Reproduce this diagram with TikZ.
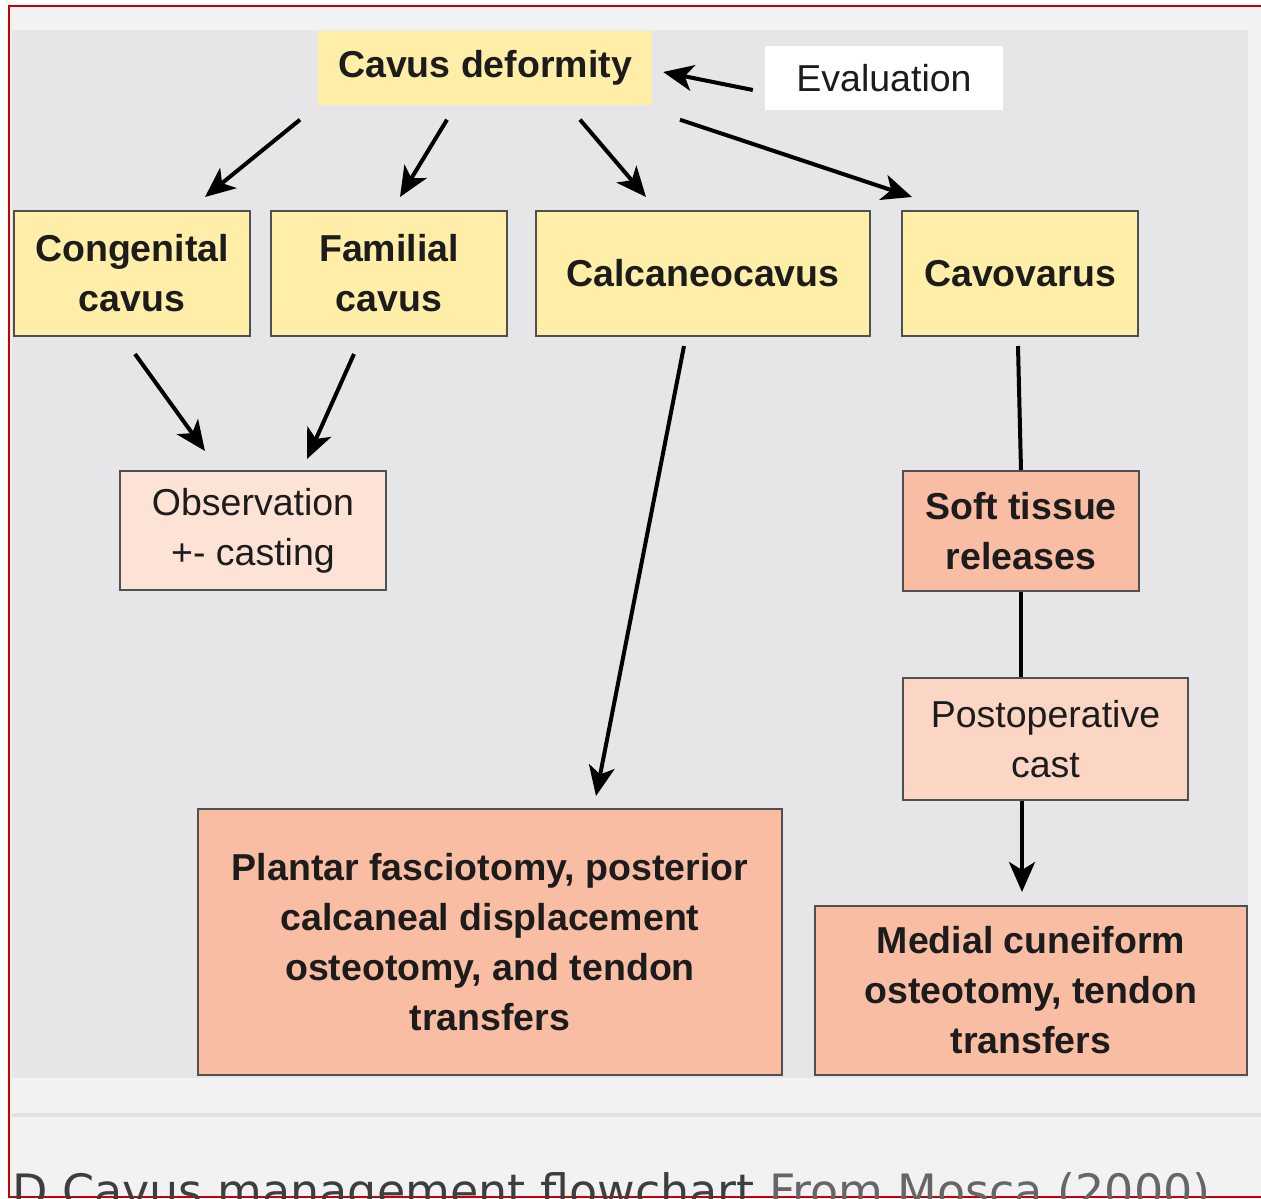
\documentclass[tikz,border=0pt]{standalone}
\usepackage{fontspec}
\setmainfont{Liberation Sans}
\newfontfamily\captionfont{DejaVu Sans}
\usepackage{tikz}
\usetikzlibrary{positioning, arrows.meta}
\definecolor{cavusyellow}{RGB}{255,238,168}
\definecolor{obspink}{RGB}{253,226,214}
\definecolor{salmon}{RGB}{249,189,164}
\definecolor{peach}{RGB}{252,214,196}
\definecolor{boxline}{RGB}{80,80,80}
\definecolor{panelgray}{RGB}{230,230,232}
\definecolor{pagegray}{RGB}{242,242,242}
\definecolor{ruleline}{RGB}{224,224,224}
\definecolor{framered}{RGB}{204,0,0}
\definecolor{inkdark}{RGB}{28,28,28}
\newcommand{\boxfont}{\fontsize{37.5pt}{50pt}\selectfont}

\begin{document}
\begin{tikzpicture}[
    x=1pt, y=-1pt,
    box/.style={
        align=center,
        inner sep=0pt,
        text=inkdark,
        font=\boxfont
    },
    yellowbox/.style={box, draw=boxline, line width=2pt, fill=cavusyellow,
        minimum height=125pt, font=\boxfont\bfseries},
    pinkbox/.style={box, draw=boxline, line width=2pt, fill=obspink},
    peachbox/.style={box, draw=boxline, line width=2pt, fill=peach},
    salmonbox/.style={box, draw=boxline, line width=2pt, fill=salmon, font=\boxfont\bfseries},
    arrow/.style={line width=4pt, -{Stealth[length=30pt, width=26pt, inset=8pt]}},
    link/.style={line width=4pt}
]
\useasboundingbox (0,0) rectangle (1261,1199);
\clip (0,0) rectangle (1261,1199);

% ======================
% Page and panel
% ======================
\fill[pagegray] (10,7) rectangle (1261,1197);
\fill[panelgray] (12,30) rectangle (1248,1078);
\draw[ruleline, line width=4pt] (12,1115) -- (1261,1115);
\draw[framered, line width=2pt] (1261,6) -- (9,6) -- (9,1197) -- (1261,1197);

% ======================
% Top row
% ======================
\node[box, fill=cavusyellow, font=\boxfont\bfseries, minimum width=334pt, minimum height=73pt]
    (deformity) at (485,68) {Cavus deformity};
\node[box, fill=white, minimum width=238pt, minimum height=64pt]
    (evaluation) at (884,78) {Evaluation};

\node[yellowbox, minimum width=236pt] (congenital) at (132,273.5) {Congenital\\cavus};
\node[yellowbox, minimum width=236pt] (familial) at (389,273.5) {Familial\\cavus};
\node[yellowbox, minimum width=334pt] (calcaneo) at (703,273.5) {Calcaneocavus};
\node[yellowbox, minimum width=236pt] (cavovarus) at (1020,273.5) {Cavovarus};

\draw[arrow] ([xshift=-12pt,yshift=-12pt]evaluation.west) -- ([xshift=11pt,yshift=-4pt]deformity.east);
\draw[arrow] ([xshift=-185pt,yshift=-15pt]deformity.south) -- ([xshift=73pt,yshift=13pt]congenital.north);
\draw[arrow] ([xshift=-38pt,yshift=-15pt]deformity.south) -- ([xshift=11pt,yshift=13pt]familial.north);
\draw[arrow] ([xshift=95pt,yshift=-15pt]deformity.south) -- ([xshift=-57pt,yshift=13pt]calcaneo.north);
\draw[arrow] ([xshift=195pt,yshift=-15pt]deformity.south) -- ([xshift=-108pt,yshift=13pt]cavovarus.north);

% ======================
% Treatments
% ======================
\node[pinkbox, minimum width=266pt, minimum height=119pt] (observation) at (253,530.5)
    {Observation\\+- casting};
\node[salmonbox, minimum width=236pt, minimum height=120pt] (softtissue) at (1021,531)
    {Soft tissue\\releases};
\node[peachbox, minimum width=285pt, minimum height=122pt] (postop) at (1045.5,739)
    {Postoperative\\cast};
\node[salmonbox, minimum width=584pt, minimum height=266pt] (plantar) at (490,942)
    {Plantar fasciotomy, posterior\\calcaneal displacement\\osteotomy, and tendon\\transfers};
\node[salmonbox, minimum width=432pt, minimum height=169pt] (medial) at (1031,990.5)
    {Medial cuneiform\\osteotomy, tendon\\transfers};

\draw[arrow] ([xshift=3pt,yshift=-17pt]congenital.south) -- ([xshift=-48pt,yshift=19pt]observation.north);
\draw[arrow] ([xshift=-35pt,yshift=-17pt]familial.south) -- ([xshift=54pt,yshift=11pt]observation.north);
\draw[arrow] ([xshift=-19pt,yshift=-9pt]calcaneo.south) -- ([xshift=106pt,yshift=12pt]plantar.north);
\draw[link] ([xshift=-2pt,yshift=-9pt]cavovarus.south) -- (softtissue.north);
\draw[link] (softtissue.south) -- (softtissue.south |- postop.north);
\draw[arrow] ([xshift=-23.5pt]postop.south) -- ([xshift=-9pt,yshift=13pt]medial.north);

% ======================
% Caption
% ======================
\node[anchor=base west, inner sep=0pt, font=\captionfont\fontsize{46pt}{50pt}\selectfont]
    (caption) at (12,1207) {\textcolor{inkdark!85}{D Cavus management flowchart} \textcolor{black!60}{From Mosca (2000)}};

\end{tikzpicture}
\end{document}
